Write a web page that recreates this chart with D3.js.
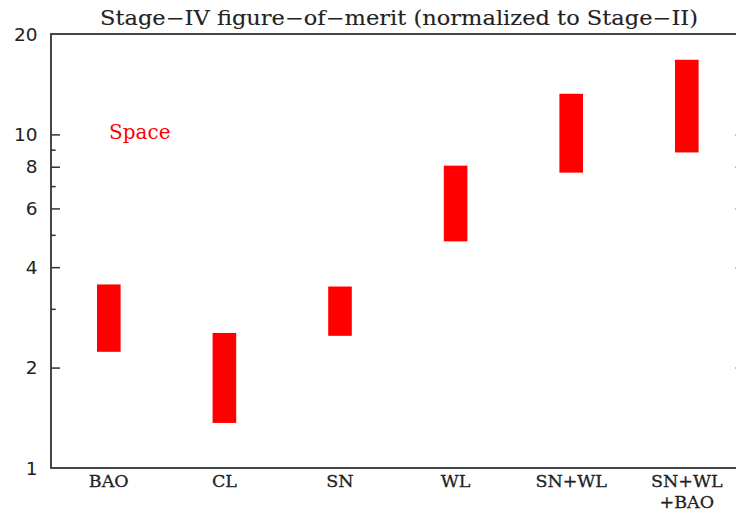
<!DOCTYPE html>
<html>
<head>
<meta charset="utf-8">
<script src="https://cdn.jsdelivr.net/npm/d3@7"></script>
<style>
  body { margin: 0; background: #fff; }
  svg { display: block; }
</style>
</head>
<body>
<svg id="chart"></svg>
<script>
// probes and their stage-IV / stage-II ranges
var probes = ["BAO", "CL", "SN", "WL", "SN+WL", "SN+WL+BAO"]
var probeLabels = [["BAO"], ["CL"], ["SN"], ["WL"], ["SN+WL"], ["SN+WL", "+BAO"]]
var lowVals = [2.23, 1.365, 2.49, 4.78, 7.68, 8.83]
var highVals = [3.55, 2.54, 3.50, 8.06, 13.24, 16.74]
var majorTicks = [1, 2, 4, 6, 8, 10, 20]
var minorTicks = [3, 5, 7, 9]

var screen = {width: 736, height: 515}
var plot = {left: 51, right: 744.6, top: 34, bottom: 468}

var svg = d3.select("#chart")
    .attr("width", screen.width)
    .attr("height", screen.height)

var xScale = d3.scalePoint()
    .domain(probes)
    .range([plot.left, plot.right])
    .padding(0.5)

var yScale = d3.scaleLog()
    .domain([1, 20])
    .range([plot.bottom, plot.top])

var axisColor = "#333"
var serif = "'DejaVu Serif', serif"

// bars
svg.selectAll(".bar")
    .data(probes)
    .enter()
    .append("rect")
    .attr("class", "bar")
    .attr("x", function(d) { return xScale(d) - 11.8 })
    .attr("width", 23.6)
    .attr("y", function(d, i) { return yScale(highVals[i]) })
    .attr("height", function(d, i) { return yScale(lowVals[i]) - yScale(highVals[i]) })
    .attr("fill", "#ff0000")

// frame
svg.append("rect")
    .attr("x", plot.left)
    .attr("y", plot.top)
    .attr("width", plot.right - plot.left)
    .attr("height", plot.bottom - plot.top)
    .attr("fill", "none")
    .attr("stroke", axisColor)
    .attr("stroke-width", 1.8)

// ticks on the left, mirrored on the right
var inner = majorTicks.filter(function(v) { return v != 1 && v != 20 })
svg.append("g").attr("transform", "translate(" + plot.left + ",0)")
    .call(d3.axisRight(yScale).tickValues(inner).tickSize(9).tickFormat(""))
svg.append("g").attr("transform", "translate(" + plot.left + ",0)")
    .call(d3.axisRight(yScale).tickValues(minorTicks).tickSize(4.7).tickFormat(""))
svg.append("g").attr("transform", "translate(" + plot.right + ",0)")
    .call(d3.axisLeft(yScale).tickValues(inner).tickSize(9).tickFormat(""))
svg.append("g").attr("transform", "translate(" + plot.right + ",0)")
    .call(d3.axisLeft(yScale).tickValues(minorTicks).tickSize(4.7).tickFormat(""))

svg.selectAll(".domain").remove()
svg.selectAll(".tick line").attr("stroke", axisColor).attr("stroke-width", 1.5)

svg.selectAll(".ylab")
    .data(majorTicks)
    .enter()
    .append("text")
    .attr("class", "ylab")
    .attr("x", 37.5)
    .attr("y", function(d) { return yScale(d) })
    .attr("dy", "0.36em")
    .attr("text-anchor", "end")
    .attr("font-family", "'DejaVu Sans', sans-serif")
    .attr("font-size", 18.5)
    .attr("fill", "#222")
    .text(function(d) { return d })

// category labels
var xl = svg.selectAll(".xlab")
    .data(probes)
    .enter()
    .append("text")
    .attr("class", "xlab")
    .attr("text-anchor", "middle")
    .attr("font-family", serif)
    .attr("font-size", 17.5)
    .attr("fill", "#222")
    .attr("stroke", "#222")
    .attr("stroke-width", 0.3)
xl.selectAll("tspan")
    .data(function(d, i) { return probeLabels[i].map(function(s) { return {p: d, s: s} }) })
    .enter()
    .append("tspan")
    .attr("x", function(d) { return xScale(d.p) })
    .attr("y", function(d, j) { return 487 + j * 21 })
    .text(function(d) { return d.s })

// title
svg.append("text")
    .attr("x", 399)
    .attr("y", 25)
    .attr("text-anchor", "middle")
    .attr("font-family", serif)
    .attr("font-size", 20)
    .attr("textLength", 598)
    .attr("lengthAdjust", "spacingAndGlyphs")
    .attr("fill", "#222")
    .attr("stroke", "#222")
    .attr("stroke-width", 0.12)
    .text("Stage\u2212IV figure\u2212of\u2212merit (normalized to Stage\u2212II)")

// mission label
svg.append("text")
    .attr("x", 109)
    .attr("y", 139)
    .attr("font-family", serif)
    .attr("font-size", 20)
    .attr("fill", "#ff0000")
    .text("Space")
</script>
</body>
</html>
